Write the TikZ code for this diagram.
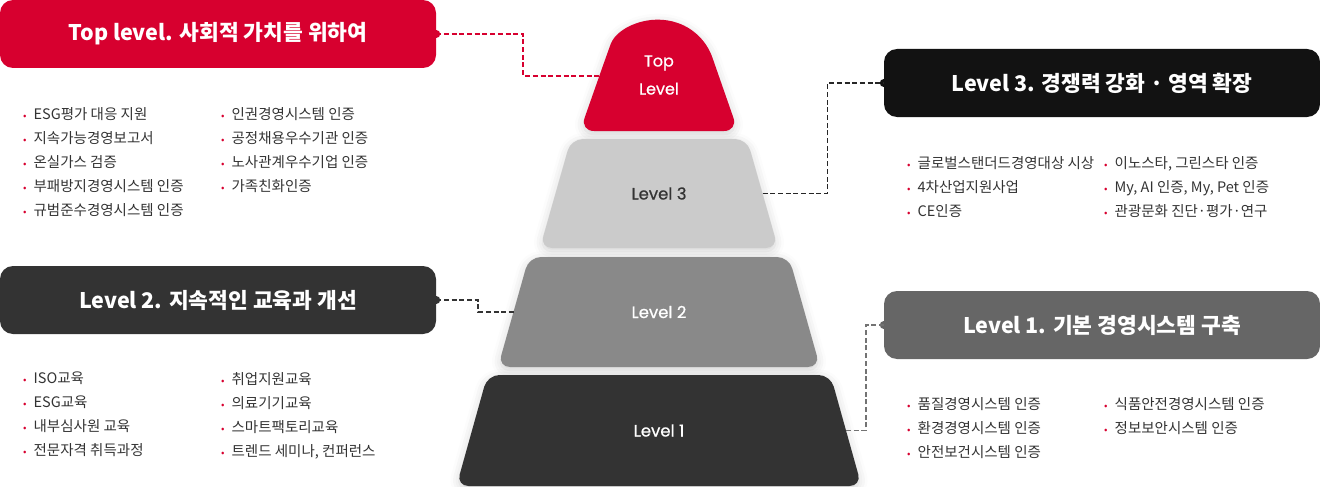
\documentclass[tikz,border=0pt]{standalone}
\usepackage{fontspec}
\setmainfont{Noto Sans CJK KR}
\newfontfamily\lvfont{Poppins}[FakeBold=0.7]
\usepackage{tikz}
\usetikzlibrary{shadows.blur}
\definecolor{topred}{HTML}{D7002F}
\definecolor{lvthree}{HTML}{CBCBCB}
\definecolor{lvtwo}{HTML}{898989}
\definecolor{lvone}{HTML}{333333}
\definecolor{inktxt}{HTML}{333333}
\newcommand{\bul}{\textcolor{topred}{\scalebox{0.7}{•}}\hspace{7pt}}

\begin{document}
\begin{tikzpicture}[
x=1pt, y=-1pt,
TitleBox/.style={rounded corners=13pt, minimum width=436pt, minimum height=68pt, inner sep=0pt, text=white, font=\fontsize{21.5}{24}\selectfont\bfseries},
Tier/.style={rounded corners=12pt},
TierText/.style={inner sep=0pt, font=\lvfont\fontsize{16.5}{18}\selectfont},
Glow/.style={blur shadow={shadow xshift=0pt, shadow yshift=-3pt, shadow blur radius=9pt, shadow opacity=18}},
Link/.style={dashed, dash pattern=on 5pt off 2.7pt, line width=1.5pt},
ItemList/.style={anchor=north west, align=left, inner sep=0pt, text=inktxt, font=\fontsize{14.5}{24}\selectfont}
]
\useasboundingbox (0,0) rectangle (1320,487);

% title boxes
\node[TitleBox, fill=topred] (toptitle) at (218,34) {Top level. 사회적 가치를 위하여};
\node[TitleBox, fill=black!93] (l3title) at (1102,83) {Level 3. 경쟁력 강화 · 영역 확장};
\node[TitleBox, fill=lvone] (l2title) at (218,300) {Level 2. 지속적인 교육과 개선};
\node[TitleBox, fill=black!60] (l1title) at (1102,325) {Level 1. 기본 경영시스템 구축};

\fill[topred] (toptitle.east) circle (4);
\fill[black!93] (l3title.west) circle (4);
\fill[lvone] (l2title.east) circle (4);
\fill[black!60] (l1title.west) circle (4);

% the pyramid, top to bottom
\fill[topred, Glow] (659,131) [rounded corners=14pt] -- (580,131) -- (606,57) [sharp corners] arc[start angle=200, end angle=340, radius=56.5] [rounded corners=14pt] -- (738,131) -- cycle;
\node[font=\lvfont\fontsize{16}{28}\selectfont, text=white, align=center] (lvtop) at (659,75) {Top\\Level};
\coordinate (topL) at (599,76);

\fill[lvthree, Tier, Glow] (540,248) -- (571,139) -- (747,139) -- (778,248) -- cycle;
\node[TierText, text=inktxt] (lv3) at (659,193.5) {Level 3};
\coordinate (lv3R) at (762.5,193.5);

\fill[lvtwo, Tier, Glow] (498,367) -- (529,257) -- (789,257) -- (820,367) -- cycle;
\node[TierText, text=white] (lv2) at (659,312) {Level 2};
\coordinate (lv2L) at (513.5,312);

\fill[lvone, Tier, Glow] (456.5,486) -- (487.5,375) -- (830.5,375) -- (861.5,486) -- cycle;
\node[TierText, text=white] (lv1) at (659,430.5) {Level 1};
\coordinate (lv1R) at (846,430.5);

% dashed connectors
\draw[Link, topred] (toptitle.east) -- ++(87,0) |- (topL);
\draw[Link, black!85] (lv3R) -- ++(65,0) |- (l3title.west);
\draw[Link, lvone] (l2title.east) -- ++(42,0) |- (lv2L);
\draw[Link, black!55] (lv1R) -- ++(20,0) |- (l1title.west);

% item lists
\node[ItemList] (toplistA) at (23,107) {\bul ESG평가 대응 지원\\ \bul 지속가능경영보고서\\ \bul 온실가스 검증\\ \bul 부패방지경영시스템 인증\\ \bul 규범준수경영시스템 인증};
\node[ItemList] (toplistB) at (221,107) {\bul 인권경영시스템 인증\\ \bul 공정채용우수기관 인증\\ \bul 노사관계우수기업 인증\\ \bul 가족친화인증};

\node[ItemList] (l3listA) at (907,156) {\bul 글로벌스탠더드경영대상 시상\\ \bul 4차산업지원사업\\ \bul CE인증};
\node[ItemList] (l3listB) at (1104,156) {\bul 이노스타, 그린스타 인증\\ \bul My, AI 인증, My, Pet 인증\\ \bul 관광문화 진단·평가·연구};

\node[ItemList] (l2listA) at (23,372) {\bul ISO교육\\ \bul ESG교육\\ \bul 내부심사원 교육\\ \bul 전문자격 취득과정};
\node[ItemList] (l2listB) at (221,372) {\bul 취업지원교육\\ \bul 의료기기교육\\ \bul 스마트팩토리교육\\ \bul 트렌드 세미나, 컨퍼런스};

\node[ItemList] (l1listA) at (907,397) {\bul 품질경영시스템 인증\\ \bul 환경경영시스템 인증\\ \bul 안전보건시스템 인증};
\node[ItemList] (l1listB) at (1104,397) {\bul 식품안전경영시스템 인증\\ \bul 정보보안시스템 인증};

\end{tikzpicture}
\end{document}
